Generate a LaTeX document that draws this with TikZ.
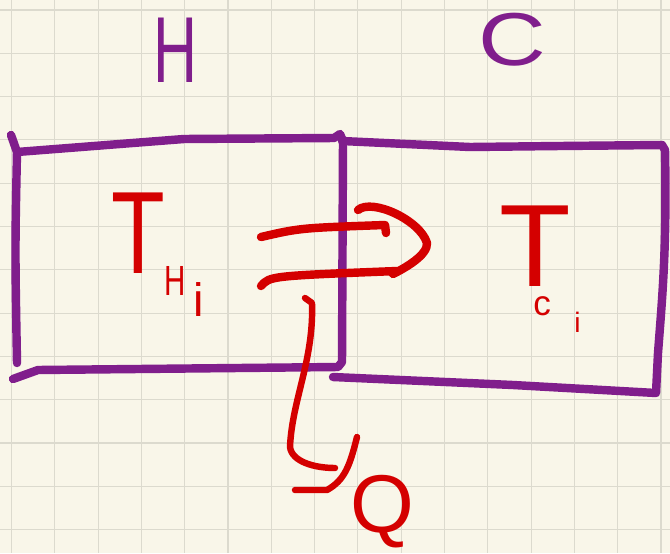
\documentclass[tikz,border=0pt]{standalone}
\usepackage{graphicx}
\usepackage{fontspec}
\setmainfont{Liberation Sans}

\definecolor{paper}{RGB}{249,246,233}
\definecolor{gridgray}{RGB}{220,218,206}
\definecolor{sketchpurple}{RGB}{128,30,140}
\definecolor{sketchred}{RGB}{212,0,0}

\newcommand{\sz}[1]{\fontsize{#1}{#1}\selectfont}

\begin{document}
\begin{tikzpicture}[x=0.03cm, y=-0.03cm,
        gridline/.style={draw=gridgray, line width=1pt},
        pbox/.style={draw=sketchpurple, line width=7.2pt, line cap=round, line join=round},
        rline/.style={draw=sketchred, line width=7.2pt, line cap=round, line join=round},
        plbl/.style={inner sep=0pt, text=sketchpurple},
        rlbl/.style={inner sep=0pt, text=sketchred}]
      % paper and grid
      \fill[paper] (0,0) rectangle (670,553);
      \useasboundingbox (0,0) rectangle (670,553);
      \foreach \gx in {0,...,15}
        \draw[gridline] ({11.5+43.3*\gx},0) -- ({11.5+43.3*\gx},553);
      \foreach \gy in {0,...,12}
        \draw[gridline] (0,{10+43.3*\gy}) -- (670,{10+43.3*\gy});

      % the two boxes
      \draw[pbox] (11,135) -- (17,152) -- (184,139) -- (334,138) -- (340,134)
                  -- (343,141) -- (342,362) -- (338,367) -- (38,370) -- (13,379);
      \draw[pbox] (17,152) .. controls (15,250) .. (17,363);
      \draw[pbox] (342,141) -- (470,147) -- (560,146) -- (662,145)
                  -- (665,150) .. controls (667,250) and (662,300) .. (658,353)
                  -- (656,393) -- (513,385) -- (333,377);

      % labels H and C
      \node[plbl] (hot) at (175,50) {\scalebox{0.65}[1]{\sz{80}H}};
      \node[plbl] (cold) at (512,40) {\scalebox{1.25}[1]{\sz{64}C}};

      % temperatures
      \node[rlbl, anchor=base west] (th) at (111,273)
        {\scalebox{0.75}[1]{\sz{100}T}\raisebox{-19pt}{\scalebox{0.7}[1]{\sz{36}H}}\hspace{6pt}\raisebox{-37pt}{\sz{40}i}};
      \node[rlbl, anchor=base west] (tc) at (499,286)
        {\sz{100}T\hspace{-32pt}\raisebox{-25pt}{\sz{30}c}\hspace{20pt}\raisebox{-40pt}{\sz{24}i}};

      % double arrow H => C
      \coordinate (up1) at (261,237);
      \coordinate (up2) at (385,225);
      \coordinate (lo1) at (261,286);
      \coordinate (lo2) at (397,271);
      \coordinate (tip) at (427,243);
      \draw[rline] (up1) .. controls (300,228) .. (up2) -- (386,233);
      \draw[rline] (lo1) .. controls (270,276) .. (lo2);
      \draw[rline] (358,210) .. controls (372,198) and (420,220) .. (tip)
            .. controls (428,255) and (405,268) .. (393,274);

      % heat flow Q
      \node[rlbl] (heat) at (382,512) {\sz{70}Q};
      \draw[rline, line width=5.5pt] (305,298) -- (312,303) .. controls (314,360) and (292,400) .. (290,447)
            .. controls (292,462) and (315,468) .. (335,468);
      \draw[rline, line width=5.5pt] (357,437) .. controls (350,465) and (345,480) .. (327,490) -- (295,490);
    \end{tikzpicture}
\end{document}
